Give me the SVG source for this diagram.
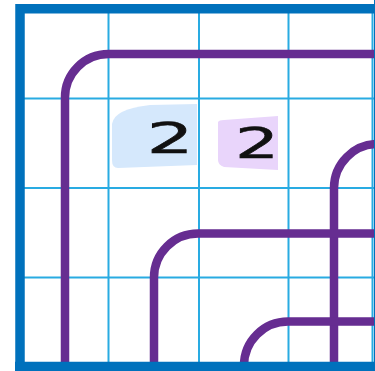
<svg xmlns="http://www.w3.org/2000/svg" width="375" height="371" viewBox="0 0 375 371">
<style>
.grid{stroke:#29ABE2;stroke-width:2;fill:none}
.border{stroke:#0071BC;stroke-width:9.5;fill:none}
.pipe{stroke:#662D91;stroke-width:8.5;fill:none}
.lbl{font-family:"DejaVu Sans",sans-serif;font-size:42px;fill:#111;stroke:#111;stroke-width:0.6;text-anchor:middle}
</style>
<rect width="375" height="371" fill="#fff"/>
<g id="grid">
<path class="grid" d="M108.5,9V366 M199,9V366 M288.5,9V366 M372.5,9V366 M20,98.5H375 M20,188H375 M20,277.5H375"/>
</g>
<g id="label-1">
<path d="M112,124 Q114,109 150,105 L197,104 L197,165 L118,168 Q112,168 112,160 Z" fill="#D5E8FC"/>
<text class="lbl" transform="translate(170,153) scale(1.75,1)">2</text>
</g>
<g id="label-2">
<path d="M218,122 Q219,120 224,120 L278,116 L278,170 L224,167 Q218,165 218,160 Z" fill="#E9D5FB"/>
<text class="lbl" transform="translate(257,158) scale(1.65,1)">2</text>
</g>
<g id="connectors">
<path class="pipe" d="M65,366 V98 A43.5,43.5 0 0 1 108.5,54 H376"/>
<path class="pipe" d="M334,366 V188 A44,44 0 0 1 378,144"/>
<path class="pipe" d="M154,366 V277.5 A44,44 0 0 1 198,233.5 H376"/>
<path class="pipe" d="M244,371 V365.5 A44,44 0 0 1 288,321.5 H376"/>
</g>
<g id="frame">
<path class="border" d="M20,371 V8.7 H380 M15,366.5 H380"/>
<rect x="374" y="0" width="1" height="371" fill="#0071BC"/>
</g>
</svg>
